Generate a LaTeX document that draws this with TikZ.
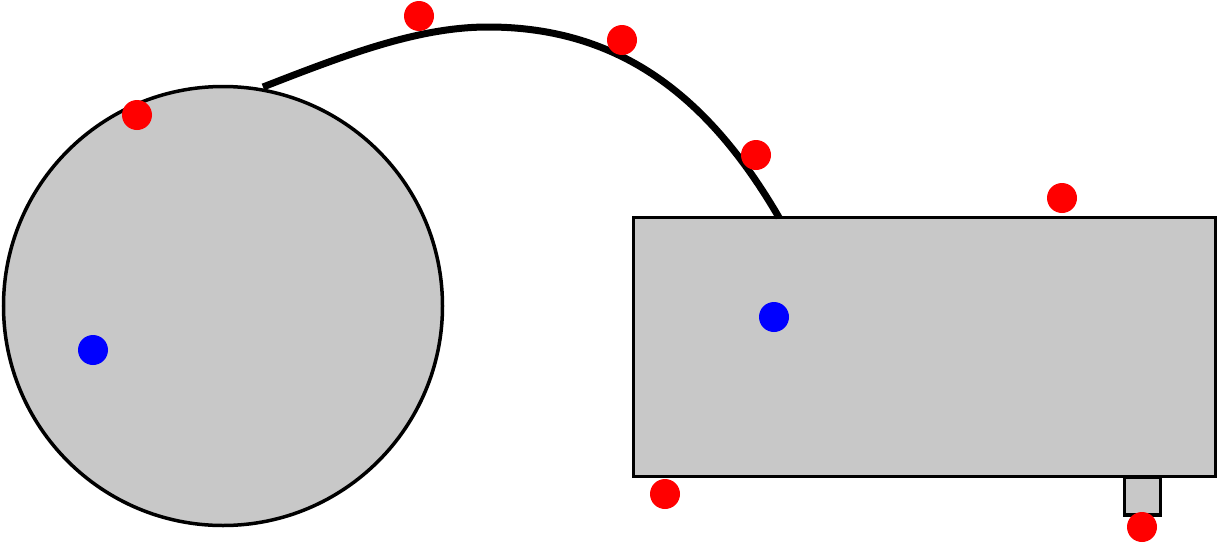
\documentclass[tikz,border=0pt]{standalone}
\usepackage{tikz}
\definecolor{shapegray}{RGB}{200,200,200}
\tikzset{
  shapebox/.style={draw=black, line width=3.5pt, fill=shapegray, inner sep=0pt, outer sep=0pt},
  reddot/.style={circle, fill=red, inner sep=0pt, minimum size=30pt},
  bluedot/.style={circle, fill=blue, inner sep=0pt, minimum size=30pt},
  cable/.style={line width=7pt, draw=black}
}
\begin{document}
\begin{tikzpicture}[x=1pt,y=-1pt]
\useasboundingbox (0,0) rectangle (1219,544);
% round body
\node[shapebox, circle, minimum size=439pt] (disk) at (223,306) {};
% small tab below the box
\node[shapebox, rectangle, minimum width=36pt, minimum height=38pt] (tab) at (1142.5,496) {};
% box
\node[shapebox, rectangle, minimum width=582pt, minimum height=259pt] (box) at (924.5,347) {};
% cable
\coordinate (cstart) at (263,87);
\coordinate (cpeak) at (488,27);
\coordinate (cend) at (779,217.5);
\draw[cable] (cstart) .. controls (350,53) and (420,27) .. (cpeak)
  .. controls (622,27) and (710,99) .. (cend);
% red dots
\node[reddot] (r1) at (137,115) {};
\node[reddot] (r2) at (419,16) {};
\node[reddot] (r3) at (622,40) {};
\node[reddot] (r4) at (756,155) {};
\node[reddot] (r5) at (1062,198) {};
\node[reddot] (r6) at (665,494) {};
\node[reddot] (r7) at (1142,527) {};
% blue dots
\node[bluedot] (b1) at (93,350) {};
\node[bluedot] (b2) at (774,317) {};
\end{tikzpicture}
\end{document}
